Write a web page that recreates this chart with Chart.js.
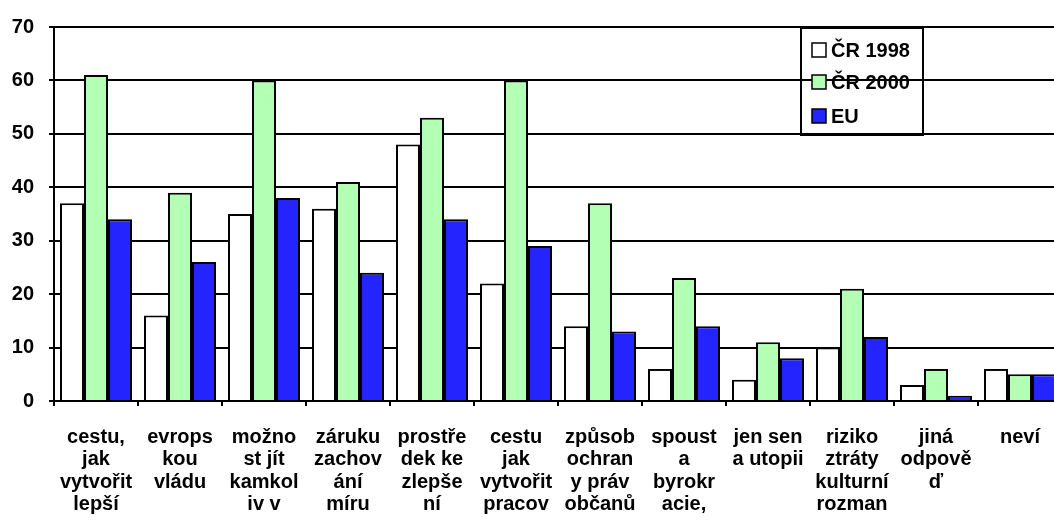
<!DOCTYPE html>
<html><head><meta charset="utf-8">
<script src="https://cdn.jsdelivr.net/npm/chart.js@4/dist/chart.umd.min.js"></script>
<style>html,body{margin:0;padding:0;overflow:hidden;background:#fff;width:1054px;height:527px}#wrap{width:1070px;height:527px}</style>
</head><body><div id="wrap"><canvas id="c" width="1070" height="527"></canvas></div>
<script>
const categories = [
  ["cestu,","jak","vytvořit","lepší"],
  ["evrops","kou","vládu"],
  ["možno","st jít","kamkol","iv v"],
  ["záruku","zachov","ání","míru"],
  ["prostře","dek ke","zlepše","ní"],
  ["cestu","jak","vytvořit","pracov"],
  ["způsob","ochran","y práv","občanů"],
  ["spoust","a","byrokr","acie,"],
  ["jen sen","a utopii"],
  ["riziko","ztráty","kulturní","rozman"],
  ["jiná","odpově","ď"],
  ["neví"]
];
const cr1998 = [37,16,35,36,48,22,14,6,4,10,3,6];
const cr2000 = [61,39,60,41,53,60,37,23,11,21,6,5];
const eu     = [34,26,38,24,34,29,13,14,8,12,1,5];
const yTicks = [0,10,20,30,40,50,60,70];

const FONT = "'Liberation Sans', Arial, sans-serif";

const legendPlugin = {
  id: 'customLegend',
  afterDraw(chart) {
    const ctx = chart.ctx;
    ctx.save();
    ctx.strokeStyle = '#000';
    ctx.lineWidth = 2;
    ctx.strokeRect(801, 28, 122, 107);
    const rows = [50, 82, 116];
    chart.data.datasets.forEach((ds, i) => {
      const y = rows[i];
      ctx.fillStyle = ds.backgroundColor;
      ctx.fillRect(812, y - 7, 14, 14);
      ctx.lineWidth = 1.5;
      ctx.strokeStyle = '#000';
      ctx.strokeRect(812, y - 7, 14, 14);
      ctx.fillStyle = '#000';
      ctx.font = 'bold 20px ' + FONT;
      ctx.textBaseline = 'middle';
      ctx.textAlign = 'left';
      ctx.fillText(ds.label, 831, y + 1);
    });
    ctx.restore();
  }
};

new Chart(document.getElementById('c'), {
  type: 'bar',
  data: {
    labels: categories,
    datasets: [
      {label: 'ČR 1998', data: cr1998, backgroundColor: '#ffffff', borderColor: '#000', borderWidth: 2},
      {label: 'ČR 2000', data: cr2000, backgroundColor: '#b3ffb3', borderColor: '#000', borderWidth: 2},
      {label: 'EU', data: eu, backgroundColor: '#2424ff', borderColor: '#000', borderWidth: 2}
    ]
  },
  options: {
    responsive: false,
    animation: false,
    devicePixelRatio: 1,
    layout: {padding: {top: 23, right: 8, left: 0, bottom: 0}},
    plugins: {legend: {display: false}, tooltip: {enabled: false}},
    datasets: {bar: {categoryPercentage: 0.857, barPercentage: 1.0}},
    scales: {
      x: {
        grid: {drawOnChartArea: false, drawTicks: true, tickLength: 5, color: '#000', lineWidth: 2, offset: true},
        border: {display: true, color: '#000', width: 2},
        ticks: {color: '#000', font: {family: FONT, size: 20, weight: 'bold', lineHeight: 1.125}, padding: 20, maxRotation: 0, autoSkip: false},
        afterFit(s) { s.height = 126; }
      },
      y: {
        min: 0, max: 70,
        afterBuildTicks(s) { s.ticks = yTicks.map(v => ({value: v})); },
        grid: {color: '#000', lineWidth: 2, tickLength: 5, drawTicks: true},
        border: {display: true, color: '#000', width: 2},
        ticks: {color: '#000', font: {family: FONT, size: 20, weight: 'bold'}, padding: 15},
        afterFit(s) { s.width = 54; }
      }
    }
  },
  plugins: [legendPlugin]
});
</script>
</body></html>
